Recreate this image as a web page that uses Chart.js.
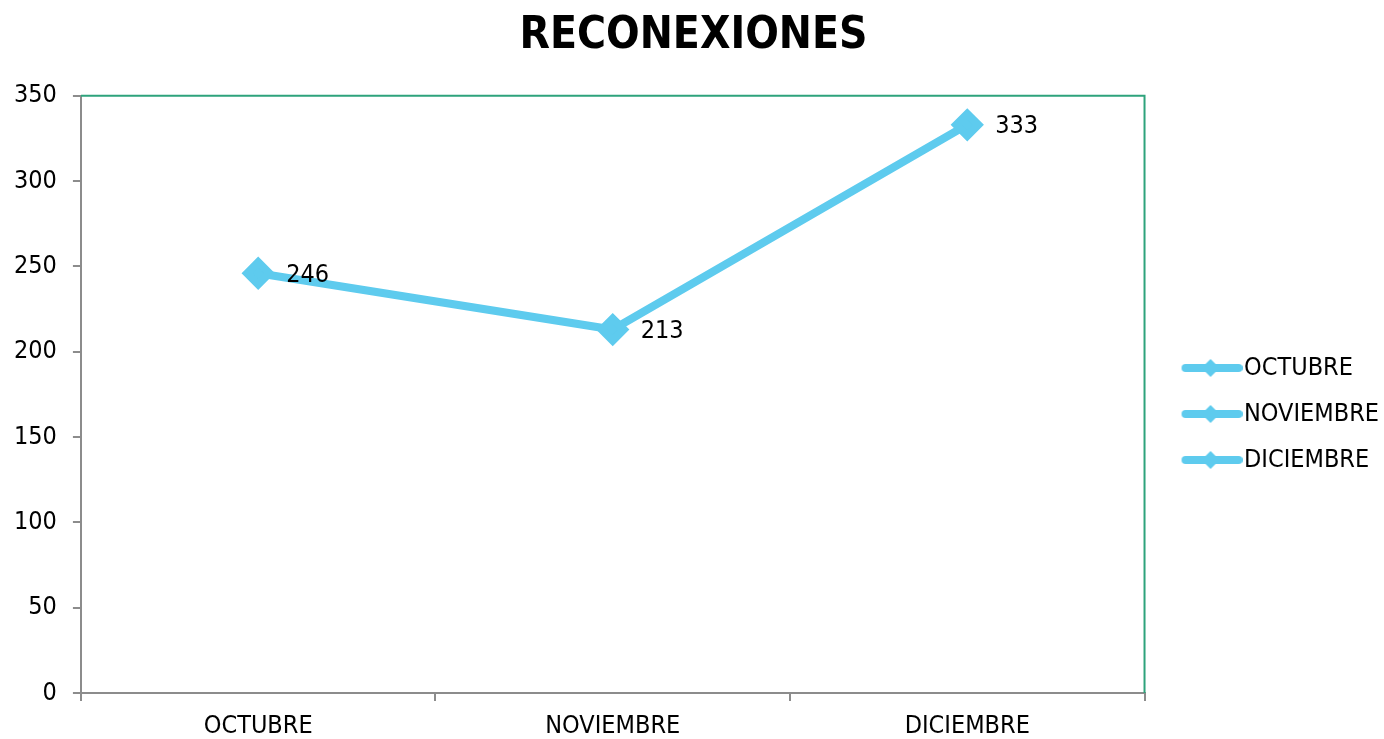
<!DOCTYPE html>
<html>
<head>
<meta charset="utf-8">
<script src="https://cdn.jsdelivr.net/npm/chart.js@4.4.0/dist/chart.umd.min.js"></script>
<style>
  html, body { margin: 0; padding: 0; background: #fff; }
  #wrap { width: 1384px; height: 739px; }
</style>
</head>
<body>
<div id="wrap"><canvas id="c"></canvas></div>
<script>
const meses = ['OCTUBRE', 'NOVIEMBRE', 'DICIEMBRE'];
const reconexiones = [246, 213, 333];
const yTicks = [0, 50, 100, 150, 200, 250, 300, 350];

const azul = '#5ecbee';
const gris = '#8c8c8c';
const verde = '#2ea37c';
const fuente = "'DejaVu Sans Condensed', 'DejaVu Sans', sans-serif";

// icono de leyenda: linea con rombo (se dibuja centrado en la caja de la leyenda)
function iconoLeyenda() {
  const cv = document.createElement('canvas');
  cv.width = 88; cv.height = 20;
  const g = cv.getContext('2d');
  g.strokeStyle = azul; g.lineWidth = 8; g.lineCap = 'round';
  g.beginPath(); g.moveTo(31, 10); g.lineTo(84, 10); g.stroke();
  g.fillStyle = azul;
  g.beginPath(); g.moveTo(56, 1); g.lineTo(65, 10); g.lineTo(56, 19); g.lineTo(47, 10); g.closePath(); g.fill();
  return cv;
}
const icono = iconoLeyenda();

const marcoPlugin = {
  id: 'marco',
  afterDraw(chart) {
    const a = chart.chartArea, ctx = chart.ctx;
    ctx.save();
    ctx.strokeStyle = verde; ctx.lineWidth = 2;
    ctx.beginPath();
    ctx.moveTo(a.left, a.top); ctx.lineTo(a.right, a.top); ctx.lineTo(a.right, a.bottom);
    ctx.stroke();
    ctx.restore();
  }
};

const etiquetasPlugin = {
  id: 'etiquetas',
  afterDatasetsDraw(chart) {
    const ctx = chart.ctx;
    const meta = chart.getDatasetMeta(0);
    ctx.save();
    ctx.font = '25px ' + fuente;
    ctx.fillStyle = '#000';
    ctx.textAlign = 'left';
    ctx.textBaseline = 'middle';
    meta.data.forEach((p, i) => {
      ctx.fillText(String(reconexiones[i]), p.x + 28, p.y + 2);
    });
    ctx.restore();
  }
};

new Chart(document.getElementById('c'), {
  type: 'line',
  data: {
    labels: meses,
    datasets: [{
      label: 'RECONEXIONES',
      data: reconexiones,
      borderColor: azul,
      backgroundColor: azul,
      borderWidth: 8,
      pointStyle: 'rectRot',
      pointRadius: 11,
      pointBackgroundColor: azul,
      pointBorderColor: azul,
      tension: 0
    }]
  },
  options: {
    responsive: true,
    maintainAspectRatio: false,
    animation: false,
    layout: { padding: { left: -2, right: -5, top: 0, bottom: -12 } },
    plugins: {
      title: {
        display: true,
        text: 'RECONEXIONES',
        color: '#000',
        font: { family: fuente, size: 44, weight: 'bold' },
        padding: { top: 10, bottom: 33 }
      },
      legend: {
        position: 'right',
        title: {
          display: true,
          text: ' ',
          font: { size: 20 },
          padding: { top: 27, bottom: 26 }
        },
        labels: {
          usePointStyle: true,
          pointStyle: icono,
          pointStyleWidth: 66,
          color: '#000',
          font: { family: fuente, size: 25 },
          padding: 21,
          generateLabels() {
            return meses.map((m) => ({
              text: m,
              fontColor: '#000',
              fillStyle: azul,
              strokeStyle: azul,
              pointStyle: icono,
              lineWidth: 0,
              hidden: false
            }));
          }
        },
        onClick() {}
      },
      tooltip: { enabled: false }
    },
    scales: {
      x: {
        offset: true,
        grid: { offset: true, drawOnChartArea: false, color: gris, lineWidth: 2, tickLength: 8 },
        border: { color: gris, width: 2 },
        ticks: { color: '#000', font: { family: fuente, size: 25 }, padding: 10, maxRotation: 0 }
      },
      y: {
        min: 0,
        max: 350,
        afterBuildTicks(scale) { scale.ticks = yTicks.map(v => ({ value: v })); },
        grid: { drawOnChartArea: false, color: gris, lineWidth: 2, tickLength: 8 },
        border: { color: gris, width: 2 },
        ticks: { color: '#000', font: { family: fuente, size: 25 }, padding: 16 }
      }
    }
  },
  plugins: [marcoPlugin, etiquetasPlugin]
});
</script>
</body>
</html>
